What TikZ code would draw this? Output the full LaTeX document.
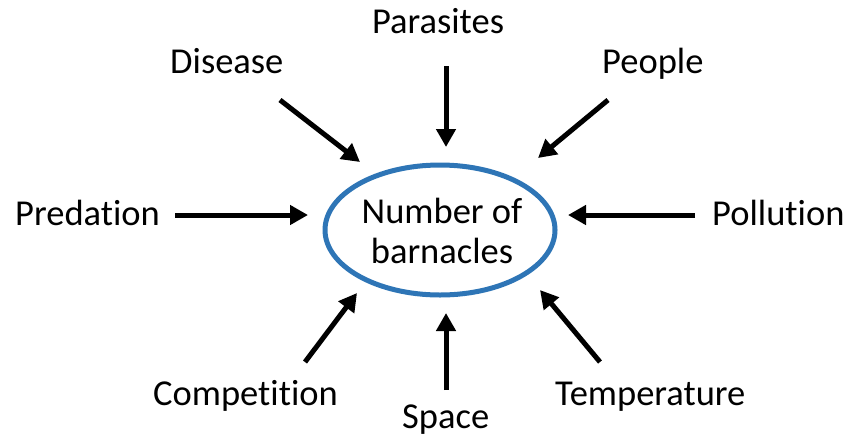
\documentclass[tikz,border=0pt]{standalone}
\usepackage{fontspec}
\setmainfont{Carlito}[Ligatures=NoCommon]
\usetikzlibrary{arrows.meta}
\definecolor{ringblue}{HTML}{2E75B6}
\begin{document}
\begin{tikzpicture}[x=1pt,y=-1pt,
  lbl/.style={inner sep=0pt,font=\fontsize{36.5}{40}\selectfont,anchor=base west},
  arr/.style={line width=5pt,-{Triangle[length=18pt,width=19pt]}}]
\useasboundingbox (0,0) rectangle (850,440);
\draw[ringblue,line width=5pt] (440,230) ellipse [x radius=115,y radius=65];
\node[inner sep=0pt,font=\fontsize{36.5}{40}\selectfont,align=center,anchor=base] (center) at (442,263) {Number of\\barnacles};
\node[lbl] (disease) at (170,73) {Disease};
\node[lbl,anchor=base] (parasites) at (438,33) {Parasites};
\node[lbl] (people) at (602,73) {People};
\node[lbl] (predation) at (15,225) {Predation};
\node[lbl] (pollution) at (712,225) {Pollution};
\node[lbl] (competition) at (153,405) {Competition};
\node[lbl] (space) at (402,428) {Space};
\node[lbl] (temperature) at (555,405) {Temperature};
\coordinate (d1) at (280,100); \coordinate (d2) at (360,162);
\coordinate (pa1) at (446,66); \coordinate (pa2) at (446,147);
\coordinate (pe1) at (608,100); \coordinate (pe2) at (538,158);
\coordinate (pr1) at (175,215); \coordinate (pr2) at (308,215);
\coordinate (po1) at (695,215); \coordinate (po2) at (568,215);
\coordinate (c1) at (305,362); \coordinate (c2) at (357,293);
\coordinate (s1) at (446,390); \coordinate (s2) at (446,313);
\coordinate (t1) at (600,362); \coordinate (t2) at (540,290);
\draw[arr] (d1) -- (d2);
\draw[arr] (pa1) -- (pa2);
\draw[arr] (pe1) -- (pe2);
\draw[arr] (pr1) -- (pr2);
\draw[arr] (po1) -- (po2);
\draw[arr] (c1) -- (c2);
\draw[arr] (s1) -- (s2);
\draw[arr] (t1) -- (t2);
\end{tikzpicture}
\end{document}
